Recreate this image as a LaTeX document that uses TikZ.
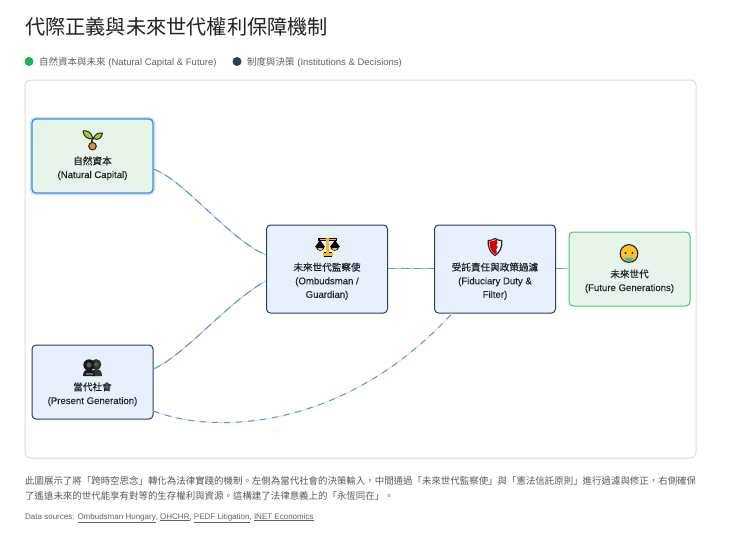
\documentclass[tikz,border=0pt]{standalone}
\usepackage{fontspec}
\setmainfont{Liberation Sans}
\newfontfamily\cjk{Noto Sans CJK TC}
\newfontfamily\cjkm[FakeBold=0.25]{Noto Sans CJK TC}
\newfontfamily\latm[FakeBold=0.12]{Liberation Sans}
\definecolor{ink}{HTML}{202124}
\definecolor{greytext}{HTML}{5F6368}
\definecolor{navy}{HTML}{2C3E50}
\definecolor{paleblue}{HTML}{E8F0FE}
\definecolor{palegreen}{HTML}{E6F4EA}
\definecolor{linkblue}{HTML}{5B95DC}
\definecolor{focusblue}{HTML}{4A8AE0}
\definecolor{linkgrey}{HTML}{C4CAD0}
\definecolor{palegrey}{HTML}{DDE1E5}
\definecolor{legendgreen}{HTML}{1FAF54}
\definecolor{futgreen}{HTML}{5CB87A}
\definecolor{gold}{HTML}{F5B921}
\definecolor{leaf}{HTML}{9CCC3C}
\definecolor{seed}{HTML}{E8873A}
\definecolor{babyface}{HTML}{FBC02D}
\definecolor{mask}{HTML}{4DB6C6}
\tikzset{
  x=1pt,y=-1pt,
  box/.style={rounded corners=4pt,minimum width=121pt,align=center,inner sep=0pt,text=ink,
    font=\fontsize{9.6}{13.5}\selectfont\latm},
  inst/.style={box,draw=navy,line width=1pt,fill=paleblue},
  nature/.style={box,draw=#1,line width=1pt,fill=palegreen},
  link/.style={line width=1pt,draw=linkgrey,
    postaction={draw=linkblue,dash pattern=on 8pt off 5pt}},
  longlink/.style={line width=1pt,draw=palegrey,
    postaction={draw=linkblue,dash pattern=on 6pt off 6pt}},
  txt/.style={anchor=west,inner sep=0pt},
  outl/.style={draw=black!85,line width=1pt,line join=round},
}
\newcommand{\iconrow}{\rule{0pt}{19pt}}
\newcommand{\fwcomma}{\char"FF0C\relax}
\begin{document}
\begin{tikzpicture}
\useasboundingbox (0,0) rectangle (740,550);
\fill[white] (0,0) rectangle (740,550);
% title
\node[txt,text=ink] (title) at (25,26.5) {\fontsize{20.2}{24}\selectfont\cjk 代際正義與未來世代權利保障機制};
% legend
\node[circle,fill=legendgreen,minimum size=9pt,inner sep=0pt] (dota) at (29,61.5) {};
\node[txt,text=greytext] (lega) at (39,62) {\fontsize{9.5}{12}\selectfont{\cjk 自然資本與未來} (Natural Capital \& Future)};
\node[circle,fill=navy,minimum size=9pt,inner sep=0pt] (dotb) at (237,61.5) {};
\node[txt,text=greytext] (legb) at (247,62) {\fontsize{9.5}{12}\selectfont{\cjk 制度與決策} (Institutions \& Decisions)};
% panel
\draw[draw=black!13,line width=1pt,rounded corners=6pt,fill=white] (25,80) rectangle (696,458);
% nodes
\node[nature=focusblue,line width=1.3pt,minimum height=74pt,preaction={draw=linkblue!30,line width=4.5pt,rounded corners=5pt}] (nat) at (92.5,156)
  {\iconrow\\{\cjkm 自然資本}\\(Natural Capital)};
\node[inst,minimum height=74pt] (pre) at (92.5,382)
  {\iconrow\\{\cjkm 當代社會}\\(Present Generation)};
\node[inst,minimum height=88pt] (omb) at (327,269)
  {\iconrow\\{\cjkm 未來世代監察使}\\(Ombudsman /\\Guardian)};
\node[inst,minimum height=88pt] (fid) at (495,269)
  {\iconrow\\{\cjkm 受託責任與政策過濾}\\(Fiduciary Duty \&\\Filter)};
\node[nature=futgreen,minimum height=74pt] (fut) at (629.5,269)
  {\iconrow\\{\cjkm 未來世代}\\(Future Generations)};
% connectors
\draw[link] ([yshift=-13pt]nat.east) .. controls (185,181) and (230,240) .. ([yshift=14pt]omb.west);
\draw[link] ([yshift=13pt]pre.east) .. controls (185,355) and (230,300) .. ([yshift=-12pt]omb.west);
\draw[longlink] ([yshift=-29pt]pre.east) .. controls (215,435) and (345,430) .. ([xshift=-43pt]fid.south);
\draw[link] ([yshift=.5pt]omb.east) -- ([yshift=.5pt]fid.west);
\draw[link] ([yshift=.5pt]fid.east) -- ([yshift=.5pt]fut.west);
% sprout icon
\begin{scope}[shift={(92.5,141)}]
  \draw[outl,line width=1.5pt] (-.5,4) .. controls (-1,0) and (-.5,-2) .. (1,-4);
  \draw[outl,fill=seed] (0,5.2) circle (3.8);
  \draw[outl,fill=leaf] (.5,-2.5) .. controls (-1,-8.5) and (-5,-11) .. (-9.5,-10) .. controls (-9,-5) and (-5,-1) .. cycle;
  \draw[outl,fill=leaf] (1,-2.5) .. controls (2.5,-7) and (6,-8.5) .. (10,-8) .. controls (9.5,-3) and (5.5,0) .. cycle;
\end{scope}
% scales icon
\begin{scope}[shift={(327.5,247)}]
  \fill[black] (-9.5,-9.5) -- (9.5,-9.5) -- (9.5,-6) -- (-9.5,-6) -- cycle;
  \fill[black] (-7.5,-7) -- (-2.5,0) -- (-12.5,0) -- cycle;
  \fill[black] (7.5,-7) -- (2.5,0) -- (12.5,0) -- cycle;
  \fill[black] (-11.5,-1) .. controls (-11,5.5) and (-3.5,5.5) .. (-3,-1) -- cycle;
  \fill[black] (11.5,-1) .. controls (11,5.5) and (3.5,5.5) .. (3,-1) -- cycle;
  \fill[black] (-4,4.5) rectangle (4,9.5);
  \fill[gold] (-1.1,-9) rectangle (1.1,6);
  \fill[gold] (-5,6.2) rectangle (5,8.5);
  \fill[gold] (-8,-8) rectangle (8,-6.9);
  \fill[gold] (-10,1) .. controls (-8,4.3) and (-6,4.3) .. (-4.5,1) -- cycle;
  \fill[gold] (10,1) .. controls (8,4.3) and (6,4.3) .. (4.5,1) -- cycle;
\end{scope}
% shield icon
\begin{scope}[shift={(495,247)}]
  \draw[draw=black!85,line width=1.2pt,fill=white,line join=round] (0,-8.5) .. controls (2,-7) and (5,-6.5) .. (6.8,-6.5)
     .. controls (7.3,0) and (5,5.5) .. (0,8.5) .. controls (-5,5.5) and (-7.3,0) .. (-6.8,-6.5) .. controls (-5,-6.5) and (-2,-7) .. cycle;
  \fill[red!85!black] (-5.6,-5.4) .. controls (-3.5,-5.6) and (-1.5,-6.2) .. (1.8,-7.3) -- (2.5,-4) -- (1.2,-2) -- (2.8,0) -- (1.2,2.5) -- (1.8,5.5) -- (.2,7.2) .. controls (-4,4.8) and (-5.8,0) .. cycle;
\end{scope}
% baby icon
\begin{scope}[shift={(629,253.5)}]
  \draw[draw=black!85,line width=1.1pt,fill=babyface] (0,-9) .. controls (6,-8.5) and (8.8,-4) .. (8.8,0) .. controls (8.8,5.5) and (5,8.8) .. (0,8.8) .. controls (-5,8.8) and (-8.8,5.5) .. (-8.8,0) .. controls (-8.8,-4) and (-6,-8.5) .. cycle;
  \fill[black!85] (-3.5,-.5) circle (1.1);
  \fill[black!85] (3.5,-.5) circle (1.1);
  \fill[mask] (-4.5,4) -- (4.5,4) .. controls (4.5,6.8) and (2.5,8) .. (0,8) .. controls (-2.5,8) and (-4.5,6.8) .. (-4.5,4) -- cycle;
\end{scope}
% busts icon
\begin{scope}[shift={(92.5,368)}]
  \fill[black!80] (3.5,-3.5) circle (5.4);
  \fill[black!80] (-1,8) .. controls (-1,2.5) and (1,1) .. (3.5,1) .. controls (7,1) and (9.5,3) .. (9.5,8) -- cycle;
  \fill[black!90] (-3.5,-3) circle (5.7);
  \fill[black!90] (-9.5,8) .. controls (-9.5,3) and (-7,1.5) .. (-3.5,1.5) .. controls (0,1.5) and (2.5,3) .. (2.5,8) -- cycle;
  \fill[black!65] (-3.5,-3) circle (2.6);
  \fill[black!65] (3.8,-3.5) circle (2.2);
  \fill[black!60] (-7,4.5) rectangle (0,6.5);
\end{scope}
% description
\node[txt,text=greytext!90!black] (desc1) at (25,480.5) {\fontsize{9.45}{12}\selectfont\cjk 此圖展示了將「跨時空思念」轉化為法律實踐的機制。左側為當代社會的決策輸入\fwcomma 中間通過「未來世代監察使」與「憲法信託原則」進行過濾與修正\fwcomma 右側確保};
\node[txt,text=greytext!90!black] (desc2) at (25,496) {\fontsize{9.45}{12}\selectfont\cjk 了遙遠未來的世代能享有對等的生存權利與資源。這構建了法律意義上的「永恆同在」。};
\node[txt,text=greytext] (src) at (25,518) {\fontsize{8}{10}\selectfont Data sources: \underline{Ombudsman Hungary}, \underline{OHCHR}, \underline{PEDF Litigation}, \underline{INET Economics}};
\end{tikzpicture}
\end{document}
